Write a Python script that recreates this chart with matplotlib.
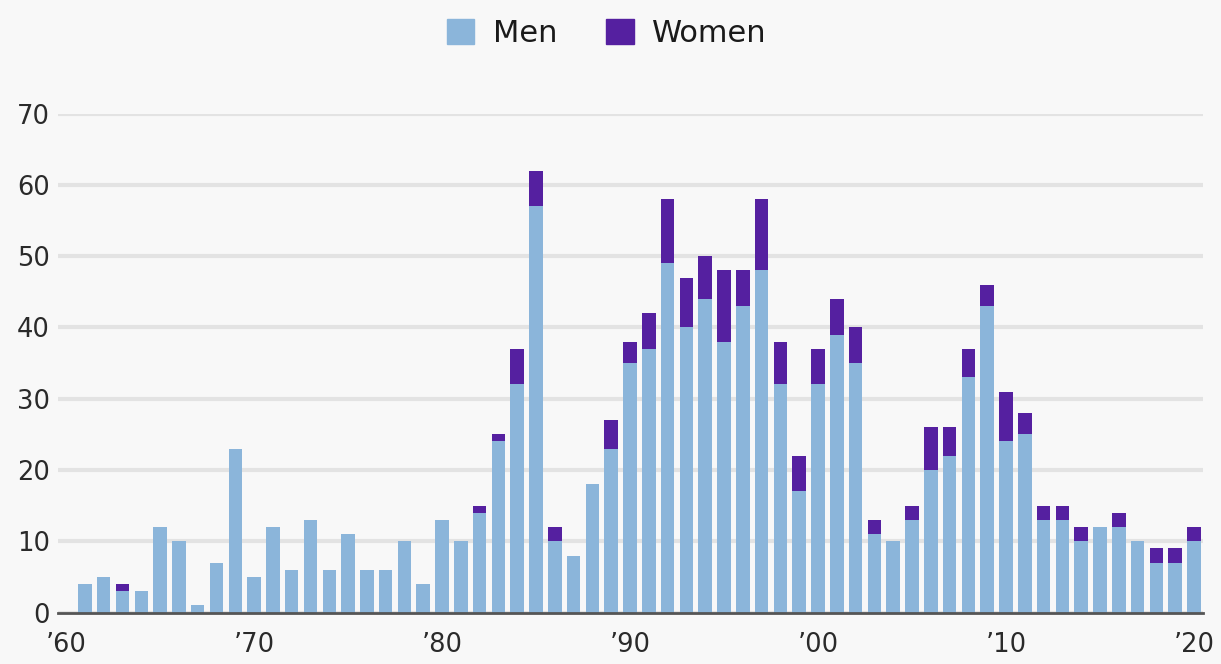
import numpy as np
import matplotlib
matplotlib.use("Agg")
import matplotlib.pyplot as plt
from matplotlib.patches import Patch

# people launched per year
years = list(range(1961, 2021))
men = [4, 5, 3, 3, 12, 10, 1, 7, 23, 5,
       12, 6, 13, 6, 11, 6, 6, 10, 4, 13,
       10, 14, 24, 32, 57, 10, 8, 18, 23, 35,
       37, 49, 40, 44, 38, 43, 48, 32, 17, 32,
       39, 35, 11, 10, 13, 20, 22, 33, 43, 24,
       25, 13, 13, 10, 12, 12, 10, 7, 7, 10]
women = [0, 0, 1, 0, 0, 0, 0, 0, 0, 0,
         0, 0, 0, 0, 0, 0, 0, 0, 0, 0,
         0, 1, 1, 5, 5, 2, 0, 0, 4, 3,
         5, 9, 7, 6, 10, 5, 10, 6, 5, 5,
         5, 5, 2, 0, 2, 6, 4, 4, 3, 7,
         3, 2, 2, 2, 0, 2, 0, 2, 2, 2]
tick_years = [1960, 1970, 1980, 1990, 2000, 2010, 2020]
tick_labels = ["’60", "’70", "’80", "’90", "’00", "’10", "’20"]

men_color = "#8bb5da"
women_color = "#5520a0"
bg = "#f8f8f8"

fig = plt.figure(figsize=(12.21, 6.64), dpi=100, facecolor=bg)
ax = fig.add_axes([0.0475, 0.0774, 0.9378, 0.7516], facecolor=bg)

ax.bar(years, men, width=0.72, color=men_color, zorder=3)
ax.bar(years, women, width=0.72, bottom=men, color=women_color, zorder=3)

ax.set_xlim(1959.57, 2020.48)
ax.set_ylim(0, 70)
ax.set_yticks(range(0, 71, 10))
ax.set_xticks(tick_years)
ax.set_xticklabels(tick_labels)
ax.tick_params(axis="both", length=0, labelsize=18.5, colors="#2a2a2a")
ax.tick_params(axis="y", pad=6)
ax.tick_params(axis="x", pad=14)

ax.grid(axis="y", color="#e3e3e3", linewidth=3, zorder=0)
for s in ["top", "right", "left"]:
    ax.spines[s].set_visible(False)
ax.spines["bottom"].set_color("#555555")
ax.spines["bottom"].set_linewidth(2)
ax.spines["bottom"].set_zorder(4)

handles = [Patch(color=men_color, label="Men"), Patch(color=women_color, label="Women")]
fig.legend(handles=handles, loc="center", bbox_to_anchor=(0.497, 0.95), ncol=2,
           frameon=False, fontsize=22, handlelength=0.9, handleheight=0.9,
           columnspacing=1.6, handletextpad=0.6, labelcolor="#1a1a1a")

fig.savefig("out.png", dpi=100, facecolor=bg)
